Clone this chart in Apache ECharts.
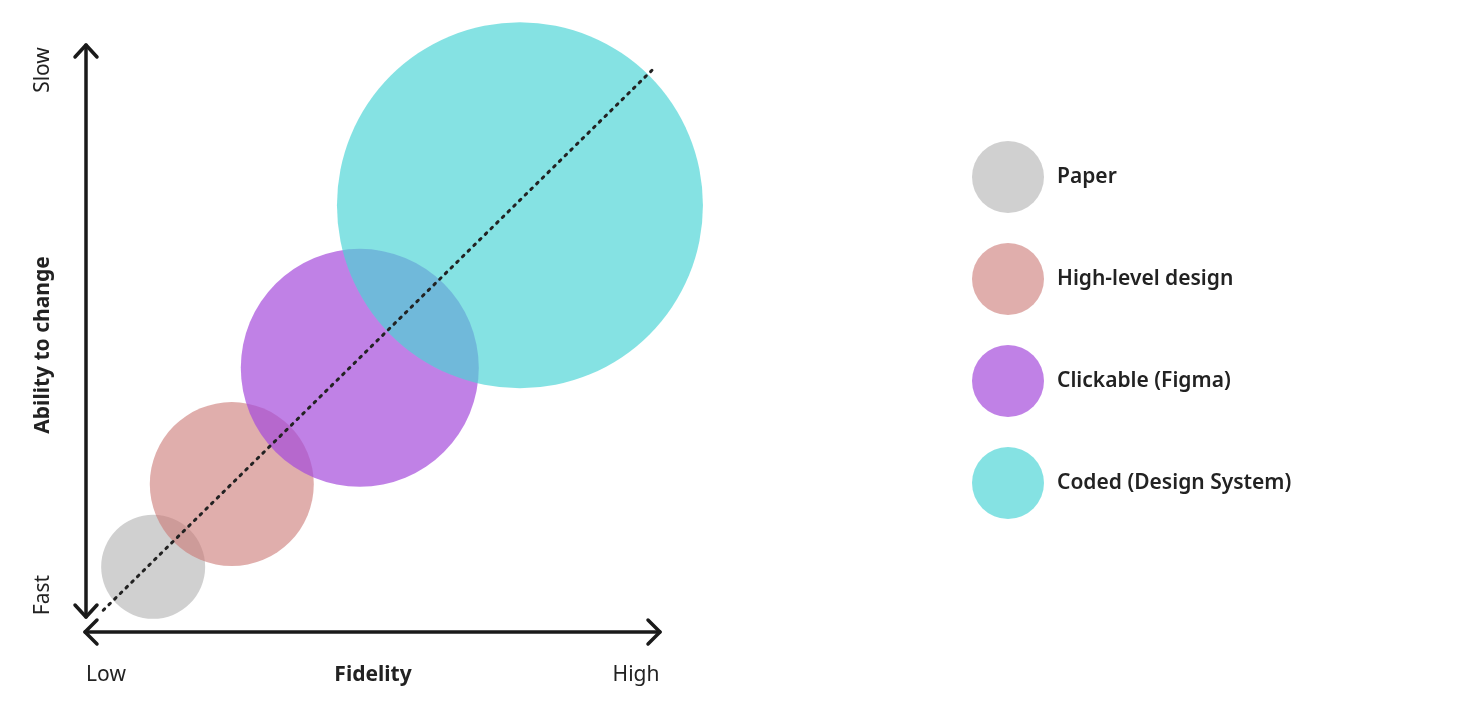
<!DOCTYPE html>
<html><head><meta charset="utf-8">
<script src="https://cdn.jsdelivr.net/npm/echarts@6/dist/echarts.min.js"></script>
<style>html,body{margin:0;background:#fff}#c{width:1480px;height:713px}</style>
</head><body><div id="c"></div>
<script>
const names = ['Paper','High-level design','Clickable (Figma)','Coded (Design System)'];
const xs = [11.7, 25.4, 47.7, 75.6];
const ys = [11.1, 25.2, 45.0, 72.7];
const diam = [104, 164, 238, 366];
const colors = ['rgba(190,190,190,0.72)','rgba(203,120,117,0.6)','rgba(165,75,220,0.7)','rgba(75,212,214,0.68)'];
const trend = [[3.0,3.7],[98.6,95.7]];
const xLabels = ['Low','Fidelity','High'];
const yLabels = ['Fast','Ability to change','Slow'];
const FONT = 'Noto Sans';

const chart = echarts.init(document.getElementById('c'));
const series = names.map((n,i)=>({
  name:n, type:'scatter', data:[[xs[i],ys[i]]], symbolSize:diam[i],
  itemStyle:{color:colors[i], opacity:1}, z:2+i, silent:true
}));
series.push({type:'line', data:trend, symbol:'none', z:10, silent:true,
  lineStyle:{color:'#222', width:3, type:[2,6], cap:'round'}});
chart.setOption({
  animation:false,
  grid:{left:86, width:574, top:45, bottom:81},
  xAxis:{min:0,max:100,show:false},
  yAxis:{min:0,max:100,show:false},
  legend:{orient:'vertical', left:967, top:136, itemWidth:72, itemHeight:72, itemGap:30,
    icon:'circle', data:names, selectedMode:false, itemStyle:{opacity:1},
    textStyle:{fontFamily:FONT, fontSize:21, fontWeight:600, color:'#222', padding:[0,0,0,8]}},
  series
});
const p = (x,y)=>chart.convertToPixel({gridIndex:0},[x,y]);
const [x0,y0] = p(0,0), [x1,y1] = p(100,100);
const ln = {stroke:'#1a1a1a', lineWidth:3.5, lineCap:'round', lineJoin:'round'};
const g = [];
const yb = y0-15;
g.push({type:'polyline', shape:{points:[[x0-1,y0],[x1,y0]]}, style:ln});
g.push({type:'polyline', shape:{points:[[x0+11,y0-12],[x0-1,y0],[x0+11,y0+12]]}, style:ln});
g.push({type:'polyline', shape:{points:[[x1-12,y0-12],[x1,y0],[x1-12,y0+12]]}, style:ln});
g.push({type:'polyline', shape:{points:[[x0,yb],[x0,y1]]}, style:ln});
g.push({type:'polyline', shape:{points:[[x0-11,y1+12],[x0,y1],[x0+11,y1+12]]}, style:ln});
g.push({type:'polyline', shape:{points:[[x0-11,yb-12],[x0,yb],[x0+11,yb-12]]}, style:ln});
const ty = y0+43;
const tx = [x0+20, (x0+x1)/2, x1-24];
xLabels.forEach((t,i)=>g.push({type:'text', x:tx[i], y:ty, style:{text:t, fontFamily:FONT, fontSize:21,
  fontWeight:i===1?'bold':'normal', fill:'#222', align:'center', verticalAlign:'middle'}}));
const yy = [y0-37, 345, 70];
yLabels.forEach((t,i)=>g.push({type:'text', x:43, y:yy[i], rotation:Math.PI/2, style:{text:t, fontFamily:FONT, fontSize:21,
  fontWeight:i===1?'bold':'normal', fill:'#222', align:'center', verticalAlign:'middle'}}));
chart.setOption({graphic:g});
</script></body></html>
